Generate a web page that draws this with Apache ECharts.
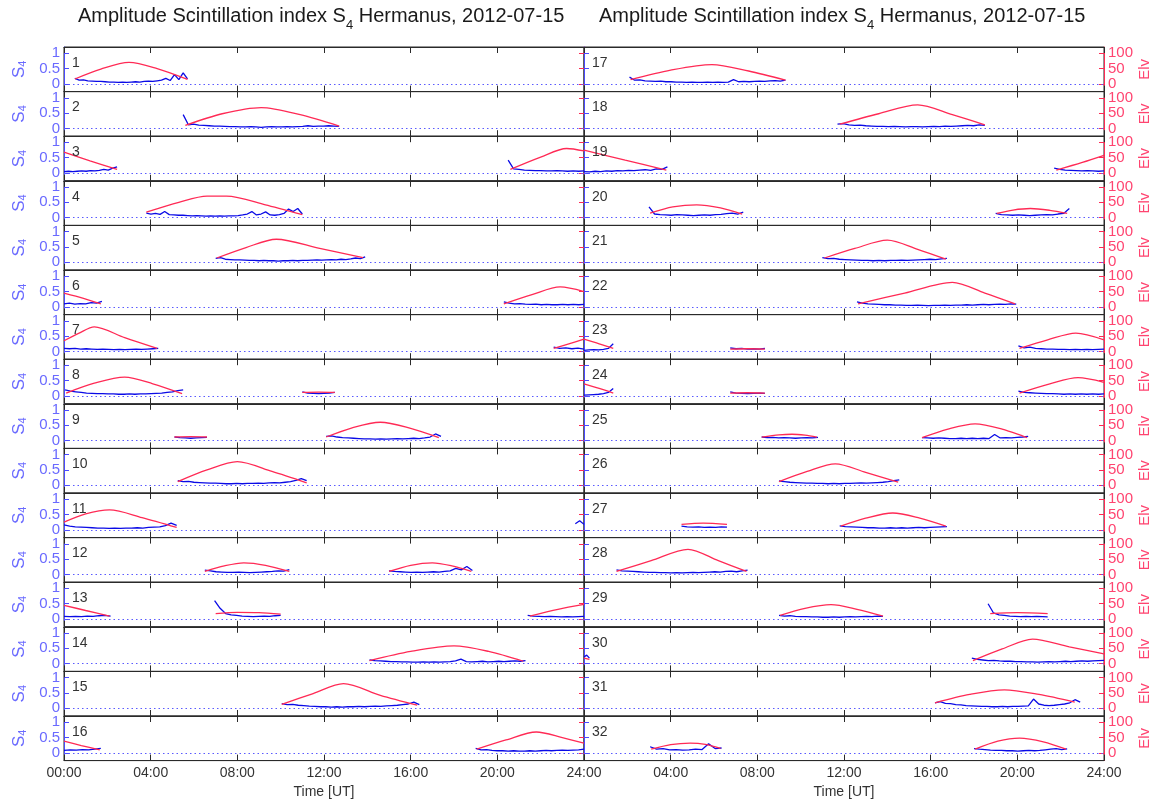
<!DOCTYPE html>
<html><head><meta charset="utf-8">
<script src="https://cdn.jsdelivr.net/npm/echarts@6/dist/echarts.min.js"></script>
<style>html,body{margin:0;padding:0;background:#fff}#c{width:1159px;height:803px}</style>
</head><body><div id="c"></div>
<script>
// ---- Tick labels ----
const timeTicks = ['00:00','04:00','08:00','12:00','16:00','20:00','24:00'];
const s4Ticks = [0, 0.5, 1];
const elvTicks = [0, 50, 100];
const panelLabels = Array.from({length:32}, (_, i) => String(i + 1));

// ---- Elevation passes: [hour UT, elevation deg] ----
const elv01 = [[[0.5,16],[1.7,48],[3.0,70],[4.3,50],[5.7,15]]];
const elv02 = [[[5.6,10],[7.3,48],[9.1,68],[10.9,45],[12.7,8]]];
const elv03 = [[[0,68],[1.2,40],[2.45,12]], [[20.6,12],[22.0,52],[23.2,80],[24,72]]];
const elv04 = [[[3.8,18],[5.3,50],[6.6,70],[7.5,70],[9.3,42],[11.0,10]]];
const elv05 = [[[7.05,14],[8.4,48],[9.8,75],[11.8,45],[13.8,15]]];
const elv06 = [[[0,45],[0.9,28],[1.7,10]], [[20.3,10],[21.6,40],[22.9,65],[24,50]]];
const elv07 = [[[0,35],[0.7,60],[1.4,80],[2.8,45],[4.3,10]], [[22.6,10],[23.3,25],[24,40]]];
const elv08 = [[[0.1,10],[1.4,42],[2.8,62],[4.1,40],[5.45,8]], [[11.0,12],[11.75,13],[12.5,12]]];
const elv09 = [[[5.1,12],[5.85,13],[6.6,12]], [[12.1,12],[13.3,42],[14.6,60],[16.0,40],[17.3,10]]];
const elv10 = [[[5.25,12],[6.6,50],[8.0,77],[9.6,45],[11.2,8]]];
const elv11 = [[[0,25],[1.0,52],[2.1,65],[3.6,40],[5.2,8]]];
const elv12 = [[[6.5,10],[7.4,28],[8.3,38],[9.3,30],[10.4,10]], [[15.0,10],[16.0,30],[17.0,38],[17.9,28],[18.8,10]]];
const elv13 = [[[0,45],[1.0,28],[2.1,10]], [[7.0,18],[8.0,22],[9.0,21],[10.0,16]], [[21.5,10],[22.8,32],[24,48]]];
const elv14 = [[[14.1,10],[16.0,40],[18.0,58],[19.6,40],[21.2,8]]];
const elv15 = [[[10.05,13],[11.5,48],[12.9,80],[14.6,42],[16.3,10]]];
const elv16 = [[[0,38],[0.8,24],[1.65,10]], [[19.05,12],[20.4,42],[21.8,68],[23.0,50],[24,32]]];
const elv17 = [[[2.15,14],[4.0,45],[5.9,63],[7.6,42],[9.3,12]]];
const elv18 = [[[11.8,14],[13.6,48],[15.4,77],[17.0,45],[18.5,12]]];
const elv19 = [[[0,75],[1.9,42],[3.8,10]], [[21.8,10],[23.0,35],[24,58]]];
const elv20 = [[[3.05,15],[4.1,35],[5.2,42],[6.3,32],[7.3,12]], [[19.05,14],[19.8,25],[20.6,30],[21.5,24],[22.3,14]]];
const elv21 = [[[11.1,14],[12.5,45],[14.0,72],[15.4,42],[16.7,10]]];
const elv22 = [[[12.65,10],[14.8,45],[17.0,80],[18.5,45],[19.9,10]]];
const elv23 = [[[0,40],[0.7,25],[1.35,10]], [[6.75,8],[7.55,9],[8.35,8]], [[20.1,10],[21.4,38],[22.7,60],[24,38]]];
const elv24 = [[[0,40],[0.7,25],[1.35,10]], [[6.75,10],[7.55,11],[8.35,10]], [[20.1,10],[21.5,40],[22.8,60],[24,45]]];
const elv25 = [[[8.2,12],[9.0,19],[9.6,21],[10.2,18],[10.75,12]], [[15.6,10],[16.8,38],[18.05,55],[19.3,38],[20.45,10]]];
const elv26 = [[[9.0,12],[10.3,45],[11.6,70],[13.0,42],[14.5,10]]];
const elv27 = [[[4.5,18],[5.5,22],[6.6,18]], [[11.85,12],[13.0,38],[14.25,55],[15.5,38],[16.7,12]]];
const elv28 = [[[1.5,10],[3.1,45],[4.8,82],[6.2,45],[7.5,10]]];
const elv29 = [[[9.05,12],[10.2,35],[11.4,47],[12.6,32],[13.8,10]], [[18.75,18],[20.0,21],[21.4,18]]];
const elv30 = [[[0,18],[0.25,14]], [[17.95,10],[19.3,48],[20.7,80],[22.4,55],[24,32]]];
const elv31 = [[[16.2,18],[17.8,45],[19.4,60],[21.0,45],[22.65,20]]];
const elv32 = [[[3.1,12],[4.0,27],[4.9,32],[5.6,28],[6.3,15]], [[18.05,12],[19.1,38],[20.1,48],[21.2,36],[22.25,12]]];

// ---- S4 passes: [start hour, end hour, S4 samples in hundredths, evenly spaced in time] ----
const s4_01 = [[0.5,5.7,[18,12,13,10,9,8,8,7,6,6,5,6,5,6,7,6,8,9,8,10,12,18,11,30,14,36,16]]];
const s4_02 = [[5.5,12.7,[45,12,14,11,10,9,8,8,7,6,6,5,5,6,5,4,5,6,5,5,6,5,6,7,9,7,8,8,9,8,7]]];
const s4_03 = [[0,2.45,[5,6,5,6,7,6,8,7,9,12,10,16,20]], [20.5,24,[42,14,12,10,9,8,8,7,7,8,7,6,7,6,7]]];
const s4_04 = [[3.8,11.0,[15,12,14,11,20,10,9,8,8,7,6,7,6,5,6,5,6,5,6,6,7,9,12,20,9,12,19,9,8,10,14,28,20,30,12]]];
const s4_05 = [[7.0,13.9,[13,15,10,9,8,8,7,6,6,5,6,5,5,4,5,5,6,5,6,6,7,8,7,8,9,8,10,9,11,14,12,18]]];
const s4_06 = [[0,1.75,[10,12,9,11,10,14,12,18]], [20.3,24,[16,12,10,11,9,8,9,7,8,7,7,8,7,8,7,8]]];
const s4_07 = [[0,4.35,[10,9,10,8,9,8,7,8,7,6,7,6,7,8,7,8,9,10]], [22.6,24,[14,10,12,9,11,8]]];
const s4_08 = [[0.05,5.5,[20,16,14,12,10,9,8,8,7,7,6,6,7,6,7,7,8,9,10,12,14,18,20]], [11.0,12.5,[14,10,9,8,9,10,12]]];
const s4_09 = [[5.1,6.6,[12,10,9,8,9,10,11]], [12.1,17.4,[14,16,12,10,9,8,7,6,6,5,6,5,6,7,6,7,8,7,9,12,22,14]]];
const s4_10 = [[5.25,11.2,[15,12,13,10,9,8,7,7,6,5,5,6,5,6,6,7,6,8,9,8,10,12,16,22,15]]];
const s4_11 = [[0,5.2,[16,12,10,9,8,7,6,6,5,6,5,6,6,7,6,8,9,10,14,22,15]], [23.6,24,[20,30,18]]];
const s4_12 = [[6.5,10.4,[14,12,9,8,7,7,8,7,6,7,8,9,10,12,11,16]], [15.0,18.85,[12,10,9,8,7,8,7,8,9,8,10,12,20,15,26,13]]];
const s4_13 = [[0,2.15,[9,8,9,8,10,9,11,12,10]], [6.95,10.0,[60,35,18,14,12,10,9,8,9,10,9,11,12]], [21.4,24,[12,10,9,8,9,8,7,8,7,8,9]]];
const s4_14 = [[14.1,21.3,[12,10,9,8,7,7,6,6,5,5,6,5,6,5,6,7,9,15,7,6,7,8,6,7,8,7,8,9,8,10]]];
const s4_15 = [[10.05,16.4,[15,12,13,10,9,7,6,5,5,4,5,4,5,5,6,5,6,7,6,8,9,10,12,14,20,12]]];
const s4_16 = [[0,1.7,[8,10,9,11,10,12,15]], [19.0,24,[15,10,11,8,7,7,6,7,6,6,7,6,7,8,7,8,9,8,9,10,12]]];
const s4_17 = [[2.1,9.3,[22,12,13,10,9,8,9,7,7,6,6,5,6,5,5,6,5,6,5,6,14,7,8,7,8,9,8,10,11,9,12]]];
const s4_18 = [[11.7,18.5,[14,16,12,10,11,9,8,7,7,6,7,6,5,6,6,5,6,7,6,8,7,8,9,10,9,12,10]]];
const s4_19 = [[0,3.85,[5,4,6,5,7,6,8,7,9,8,10,11,9,14,12,20]], [21.7,24,[16,12,10,9,8,7,8,7,6,7]]];
const s4_20 = [[3.0,7.35,[35,12,10,9,8,10,9,8,7,8,9,8,10,11,13,15,12,18]], [19.0,22.4,[14,10,9,8,9,8,7,8,9,10,9,12,14,30]]];
const s4_21 = [[11.0,16.75,[15,12,13,10,9,8,7,6,6,5,6,5,6,6,7,6,7,8,9,10,9,11,13]]];
const s4_22 = [[12.6,19.95,[16,12,10,9,8,7,7,6,6,5,5,6,5,4,5,5,6,5,6,6,7,6,7,8,7,8,9,8,10,9]]];
const s4_23 = [[0,1.35,[4,5,6,5,7,10,25]], [6.75,8.35,[12,9,10,8,9,8,10]], [20.05,24,[18,12,14,10,9,8,8,7,7,6,7,6,7,6,7,8]]];
const s4_24 = [[0,1.35,[3,4,5,6,8,12,25]], [6.75,8.35,[14,10,9,8,9,10,9]], [20.05,24,[16,12,11,10,9,8,8,7,6,7,6,7,6,7,6,7]]];
const s4_25 = [[8.2,10.8,[12,10,11,9,10,9,8,9,10,9,11]], [15.6,20.5,[10,9,8,9,8,7,7,8,7,8,7,8,7,20,9,10,9,11,12,14]]];
const s4_26 = [[9.0,14.55,[14,12,10,9,8,7,7,6,6,5,6,5,6,6,7,8,7,8,9,10,12,15,18]]];
const s4_27 = [[4.5,6.6,[12,10,9,10,8,9,8,10,9]], [11.8,16.75,[13,11,10,9,8,7,7,6,6,7,6,7,6,7,8,7,8,9,10,11]]];
const s4_28 = [[1.5,7.55,[15,12,11,10,9,8,7,7,6,6,5,6,5,6,7,6,7,8,9,8,10,11,9,12,14]]];
const s4_29 = [[9.0,13.8,[12,10,11,9,8,8,7,7,6,6,7,6,7,8,7,8,9,8,10,9]], [18.65,21.4,[50,20,14,12,10,9,8,9,8,9,8,7]]];
const s4_30 = [[0,0.25,[22,28,18]], [17.9,24,[18,14,12,10,11,9,8,8,7,7,6,6,5,6,7,6,7,8,7,8,9,8,9,10,11]]];
const s4_31 = [[16.2,22.9,[18,22,16,15,12,11,9,8,7,6,6,5,5,6,5,6,6,7,8,30,14,10,9,10,12,14,18,28,20]]];
const s4_32 = [[3.05,6.35,[20,12,14,10,11,9,10,12,11,30,14,16]], [18.0,22.3,[14,12,11,9,8,8,7,7,6,7,8,7,8,10,12,14,11,13]]];

const ELV = [elv01,elv02,elv03,elv04,elv05,elv06,elv07,elv08,elv09,elv10,elv11,elv12,elv13,elv14,elv15,elv16,
             elv17,elv18,elv19,elv20,elv21,elv22,elv23,elv24,elv25,elv26,elv27,elv28,elv29,elv30,elv31,elv32];
const S4 = [s4_01,s4_02,s4_03,s4_04,s4_05,s4_06,s4_07,s4_08,s4_09,s4_10,s4_11,s4_12,s4_13,s4_14,s4_15,s4_16,
            s4_17,s4_18,s4_19,s4_20,s4_21,s4_22,s4_23,s4_24,s4_25,s4_26,s4_27,s4_28,s4_29,s4_30,s4_31,s4_32];

// ---- Layout / style ----
const TOP = 47, PH = 44.6, COLX = [64, 584], PW = 520;
const BLUE_AX = '#4b4bff', BLUE_TXT = '#6a6aff', BLUE_DATA = '#0a0ae6';
const RED = '#ff2a55', RED_TXT = '#ff4470', DARK = '#2a2a2a';
const FONT = 'Liberation Sans, Arial, sans-serif';

const grids = [], xAxes = [], yAxes = [], series = [], titles = [];

const titleRich = {
  a: {fontSize: 20, fontWeight: 'normal', lineHeight: 24, padding: [0,0,6,0], verticalAlign: 'bottom', color: '#1a1a1a', fontFamily: FONT},
  b: {fontSize: 13, fontWeight: 'normal', lineHeight: 13, verticalAlign: 'bottom', color: '#1a1a1a', fontFamily: FONT}
};
const titleText = '{a|Amplitude Scintillation index S}{b|4}{a| Hermanus, 2012-07-15}';
titles.push({text: titleText, left: 78, top: 8, padding: 0, textStyle: {fontWeight: 'normal', rich: titleRich}});
titles.push({text: titleText, left: 599, top: 8, padding: 0, textStyle: {fontWeight: 'normal', rich: titleRich}});

for (let p = 0; p < 32; p++) {
  const col = p < 16 ? 0 : 1, row = p % 16;
  const left = COLX[col], top = TOP + row * PH;
  const last = row === 15;
  grids.push({left, top, width: PW, height: PH, show: true, borderColor: DARK, borderWidth: 1, backgroundColor: 'transparent'});
  const xCommon = {
    gridIndex: p, type: 'value', min: 0, max: 24, interval: 4,
    axisLine: {show: true, onZero: false, lineStyle: {color: DARK, width: 1}},
    axisTick: {show: true, inside: true, length: 6, lineStyle: {color: DARK}},
    splitLine: {show: false}
  };
  xAxes.push(Object.assign({}, xCommon, {
    position: 'bottom',
    axisLabel: {show: last, color: '#333', fontSize: 14, fontFamily: FONT, margin: 6,
      formatter: v => (col === 1 && v === 0) ? '' : timeTicks[Math.round(v / 4)]},
    name: last ? 'Time [UT]' : '', nameLocation: 'middle', nameGap: 25,
    nameTextStyle: {color: '#333', fontSize: 14, fontFamily: FONT}
  }));
  xAxes.push(Object.assign({}, xCommon, {position: 'top', axisLabel: {show: false}}));

  yAxes.push({
    gridIndex: p, type: 'value', position: 'left', min: -0.25, max: 1.2,
    axisLine: {show: true, onZero: false, lineStyle: {color: BLUE_AX, width: 1}},
    axisTick: {show: true, inside: true, length: 5, customValues: s4Ticks, lineStyle: {color: BLUE_AX}},
    axisLabel: {show: col === 0, customValues: s4Ticks, color: BLUE_TXT, fontSize: 15, fontFamily: FONT, margin: 4},
    splitLine: {show: false},
    name: col === 0 ? 'S{s|4}' : '', nameLocation: 'middle', nameRotate: 90, nameGap: 36,
    nameTextStyle: {color: BLUE_TXT, fontSize: 17, fontFamily: FONT,
      rich: {s: {fontSize: 11, color: BLUE_TXT, fontFamily: FONT, verticalAlign: 'bottom', lineHeight: 11}}}
  });
  yAxes.push({
    gridIndex: p, type: 'value', position: 'right', min: -25, max: 120,
    axisLine: {show: true, onZero: false, lineStyle: {color: RED, width: 1}},
    axisTick: {show: true, inside: true, length: 5, customValues: elvTicks, lineStyle: {color: RED}},
    axisLabel: {show: col === 1, customValues: elvTicks, color: RED_TXT, fontSize: 15, fontFamily: FONT, margin: 4},
    splitLine: {show: false},
    name: col === 1 ? 'Elv' : '', nameLocation: 'middle', nameRotate: 90, nameGap: 33,
    nameTextStyle: {color: RED_TXT, fontSize: 15, fontFamily: FONT}
  });

  titles.push({text: panelLabels[p], left: left + 8, top: top + 9, padding: 0,
    textStyle: {fontSize: 14, fontWeight: 'normal', color: '#333', fontFamily: FONT}});

  // zero reference line (dotted)
  series.push({
    type: 'line', xAxisIndex: 2 * p, yAxisIndex: 2 * p, data: [], silent: true,
    markLine: {silent: true, symbol: ['none', 'none'], label: {show: false},
      lineStyle: {type: [1.5, 3], color: '#5a5aff', width: 1}, data: [{yAxis: 0}]},
    animation: false
  });
  S4[p].forEach(([t0, t1, vals]) => {
    const n = vals.length;
    series.push({
      type: 'line', xAxisIndex: 2 * p, yAxisIndex: 2 * p, showSymbol: false, symbol: 'none',
      lineStyle: {color: BLUE_DATA, width: 1.3}, animation: false, z: 3,
      data: vals.map((v, i) => [t0 + (t1 - t0) * i / (n - 1), v / 100])
    });
  });
  ELV[p].forEach(pass => {
    series.push({
      type: 'line', xAxisIndex: 2 * p, yAxisIndex: 2 * p + 1, showSymbol: false, symbol: 'none',
      smooth: 0.3,
      lineStyle: {color: RED, width: 1.3}, animation: false, z: 4,
      data: pass
    });
  });
}

const chart = echarts.init(document.getElementById('c'), null, {renderer: 'canvas'});
chart.setOption({
  backgroundColor: '#fff',
  animation: false,
  textStyle: {fontFamily: FONT},
  title: titles, grid: grids, xAxis: xAxes, yAxis: yAxes, series
});
</script></body></html>
